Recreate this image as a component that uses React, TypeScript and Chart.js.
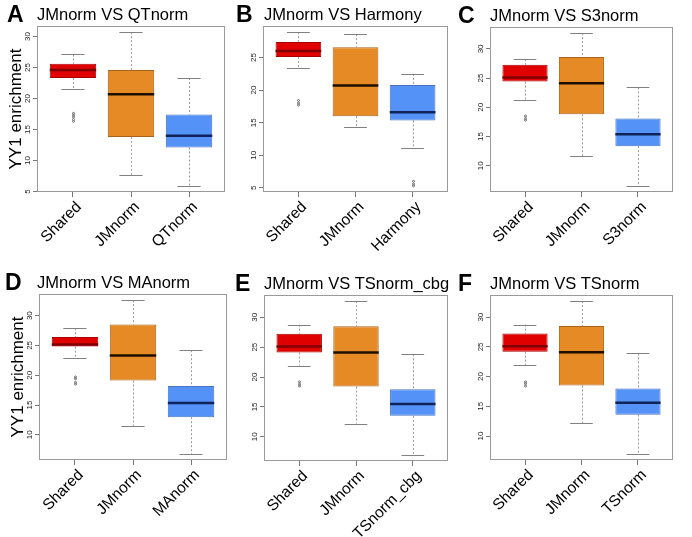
import React, { useEffect, useRef } from 'react';
import { Chart, registerables } from 'chart.js';
Chart.register(...registerables);

const FONT = '"Liberation Sans", Arial, Helvetica, sans-serif';

// ---------- data ----------
const panelLetters = ['A', 'B', 'C', 'D', 'E', 'F'];
const panelTitles = [
  'JMnorm VS QTnorm',
  'JMnorm VS Harmony',
  'JMnorm VS S3norm',
  'JMnorm VS MAnorm',
  'JMnorm VS TSnorm_cbg',
  'JMnorm VS TSnorm',
];
const yAxisTitle = 'YY1 enrichment';

const categoriesA = ['Shared', 'JMnorm', 'QTnorm'];
const lowA = [21.6, 7.6, 5.9];
const q1A = [23.3, 13.8, 12.1];
const medA = [24.6, 20.7, 14.0];
const q3A = [25.6, 24.6, 17.4];
const highA = [27.1, 30.7, 23.3];
const outliersA = [[17.6, 17.3, 17.0, 16.6, 16.3], [], []];
const yTicksA = [5, 10, 15, 20, 25, 30];

const categoriesB = ['Shared', 'JMnorm', 'Harmony'];
const lowB = [23.4, 14.3, 11.1];
const q1B = [25.1, 16.0, 15.35];
const medB = [26.0, 20.7, 16.6];
const q3B = [27.4, 26.6, 20.8];
const highB = [28.9, 28.6, 22.5];
const outliersB = [[18.4, 18.0, 17.7], [], [6.0, 5.6, 5.3]];
const yTicksB = [5, 10, 15, 20, 25];

const categoriesC = ['Shared', 'JMnorm', 'S3norm'];
const lowC = [21.2, 11.7, 6.55];
const q1C = [24.4, 18.8, 13.35];
const medC = [25.1, 24.1, 15.4];
const q3C = [27.3, 28.6, 18.1];
const highC = [28.25, 32.7, 23.4];
const outliersC = [[18.5, 18.1, 17.8], [], []];
const yTicksC = [10, 15, 20, 25, 30];

const categoriesD = ['Shared', 'JMnorm', 'MAnorm'];
const lowD = [22.9, 11.5, 6.8];
const q1D = [24.8, 19.1, 12.95];
const medD = [25.15, 23.3, 15.35];
const q3D = [26.4, 28.5, 18.2];
const highD = [27.9, 32.6, 24.2];
const outliersD = [[19.7, 19.4, 18.8, 18.5], [], []];
const yTicksD = [10, 15, 20, 25, 30];

const categoriesE = ['Shared', 'JMnorm', 'TSnorm_cbg'];
const lowE = [21.9, 12.2, 6.97];
const q1E = [24.1, 18.4, 13.5];
const medE = [25.1, 24.1, 15.5];
const q3E = [27.25, 28.5, 17.95];
const highE = [28.75, 32.7, 23.8];
const outliersE = [[19.2, 18.8, 18.5], [], []];
const yTicksE = [10, 15, 20, 25, 30];

const categoriesF = ['Shared', 'JMnorm', 'TSnorm'];
const lowF = [21.9, 12.2, 7.0];
const q1F = [24.2, 18.5, 13.6];
const medF = [25.1, 24.1, 15.6];
const q3F = [27.25, 28.5, 18.0];
const highF = [28.75, 32.7, 23.9];
const outliersF = [[19.1, 18.8, 18.4], [], []];
const yTicksF = [10, 15, 20, 25, 30];

// ---------- styles ----------
const boxColors = ['#E00000', '#E68A26', '#5592F7'];
const boxBorders = ['#A80000', '#A8641C', '#4774C2'];
const medianColors = ['#7E0000', '#1C0E00', '#0E2358'];

// ---------- layout (plot frame rectangles on the page) ----------
const frames = [
  { l: 37, t: 26, r: 225, b: 192, letterDx: -30, titleDx: 0, yTitle: true },
  { l: 263, t: 26, r: 448, b: 192, letterDx: -27, titleDx: 1, yTitle: false },
  { l: 490, t: 27, r: 673, b: 192, letterDx: -32, titleDx: 0, yTitle: false },
  { l: 39, t: 294, r: 227, b: 460, letterDx: -34, titleDx: -2, yTitle: true },
  { l: 264, t: 295, r: 448, b: 461, letterDx: -29, titleDx: 0, yTitle: false },
  { l: 490, t: 295, r: 673, b: 460, letterDx: -32, titleDx: 0, yTitle: false },
];

const panels = [
  { cats: categoriesA, low: lowA, q1: q1A, med: medA, q3: q3A, high: highA, out: outliersA, yTicks: yTicksA },
  { cats: categoriesB, low: lowB, q1: q1B, med: medB, q3: q3B, high: highB, out: outliersB, yTicks: yTicksB },
  { cats: categoriesC, low: lowC, q1: q1C, med: medC, q3: q3C, high: highC, out: outliersC, yTicks: yTicksC },
  { cats: categoriesD, low: lowD, q1: q1D, med: medD, q3: q3D, high: highD, out: outliersD, yTicks: yTicksD },
  { cats: categoriesE, low: lowE, q1: q1E, med: medE, q3: q3E, high: highE, out: outliersE, yTicks: yTicksE },
  { cats: categoriesF, low: lowF, q1: q1F, med: medF, q3: q3F, high: highF, out: outliersF, yTicks: yTicksF },
];

const W = 692;
const H = 537;

function BoxPanel({ idx }: { idx: number }) {
  const ref = useRef<HTMLCanvasElement | null>(null);
  useEffect(() => {
    const p = panels[idx];
    const f = frames[idx];
    const n = p.cats.length;
    const allVals = [...p.low, ...p.high, ...p.out.flat()];
    const lo = Math.min(...allVals);
    const hi = Math.max(...allVals);
    const ext = (hi - lo) * 0.04;
    const yW = f.yTitle ? 34 : 20;
    const xH = 76;

    const plugin = {
      id: 'rbox' + idx,
      beforeDatasetsDraw(chart: any) {
        const ctx = chart.ctx;
        const ys = chart.scales.y;
        const meta = chart.getDatasetMeta(0);
        ctx.save();
        ctx.strokeStyle = '#9a9a9a';
        ctx.lineWidth = 1;
        ctx.setLineDash([2, 2]);
        meta.data.forEach((el: any, i: number) => {
          const x = Math.round(el.x) + 0.5;
          ctx.beginPath();
          ctx.moveTo(x, ys.getPixelForValue(p.high[i]));
          ctx.lineTo(x, ys.getPixelForValue(p.q3[i]));
          ctx.moveTo(x, ys.getPixelForValue(p.q1[i]));
          ctx.lineTo(x, ys.getPixelForValue(p.low[i]));
          ctx.stroke();
        });
        ctx.restore();
      },
      afterDatasetsDraw(chart: any) {
        const ctx = chart.ctx;
        const ys = chart.scales.y;
        const meta = chart.getDatasetMeta(0);
        ctx.save();
        meta.data.forEach((el: any, i: number) => {
          const x = el.x;
          const hw = el.width / 2;
          // whisker caps
          ctx.strokeStyle = '#808080';
          ctx.lineWidth = 1;
          ctx.beginPath();
          const yh = Math.round(ys.getPixelForValue(p.high[i])) + 0.5;
          const yl = Math.round(ys.getPixelForValue(p.low[i])) + 0.5;
          ctx.moveTo(x - hw / 2, yh);
          ctx.lineTo(x + hw / 2, yh);
          ctx.moveTo(x - hw / 2, yl);
          ctx.lineTo(x + hw / 2, yl);
          ctx.stroke();
          // median
          ctx.strokeStyle = medianColors[i];
          ctx.lineWidth = 2.5;
          ctx.beginPath();
          const ym = ys.getPixelForValue(p.med[i]);
          ctx.moveTo(x - hw, ym);
          ctx.lineTo(x + hw, ym);
          ctx.stroke();
          // outliers
          ctx.strokeStyle = '#6a6a6a';
          ctx.lineWidth = 1;
          p.out[i].forEach((v: number) => {
            ctx.beginPath();
            ctx.arc(Math.round(x) + 0.5, ys.getPixelForValue(v), 1, 0, Math.PI * 2);
            ctx.stroke();
          });
        });
        ctx.restore();
      },
      afterDraw(chart: any) {
        const ctx = chart.ctx;
        const a = chart.chartArea;
        ctx.save();
        ctx.strokeStyle = '#9a9a9a';
        ctx.lineWidth = 1;
        ctx.strokeRect(Math.round(a.left) + 0.5, Math.round(a.top) + 0.5, Math.round(a.right - a.left) - 1, Math.round(a.bottom - a.top) - 1);
        ctx.fillStyle = '#000';
        ctx.textBaseline = 'alphabetic';
        ctx.textAlign = 'left';
        ctx.font = `16.5px ${FONT}`;
        ctx.fillText(panelTitles[idx], a.left + f.titleDx, a.top - 6);
        ctx.font = `bold 23px ${FONT}`;
        ctx.fillText(panelLetters[idx], a.left + f.letterDx, a.top - 4);
        ctx.restore();
      },
    };

    const chart = new Chart(ref.current as HTMLCanvasElement, {
      type: 'bar',
      data: {
        datasets: [
          {
            data: p.cats.map((_: string, i: number) => ({ x: i + 1, y: [p.q1[i], p.q3[i]] })) as any,
            backgroundColor: boxColors,
            borderColor: boxBorders,
            borderWidth: 1,
            borderSkipped: false,
            categoryPercentage: 1,
            barPercentage: 0.8,
          } as any,
        ],
      },
      options: {
        responsive: false,
        animation: false,
        devicePixelRatio: 1,
        events: [],
        layout: {
          autoPadding: false,
          padding: { left: f.l - yW, top: f.t, right: W - f.r, bottom: H - f.b - xH },
        },
        plugins: {
          legend: { display: false },
          tooltip: { enabled: false },
          title: { display: false },
        },
        scales: {
          x: {
            type: 'linear',
            min: 0.5 - 0.04 * n,
            max: n + 0.5 + 0.04 * n,
            offset: false,
            afterBuildTicks: (s: any) => {
              s.ticks = p.cats.map((_: string, i: number) => ({ value: i + 1 }));
            },
            afterFit: (s: any) => {
              s.height = xH;
              s.paddingLeft = 0;
              s.paddingRight = 0;
            },
            ticks: {
              autoSkip: false,
              minRotation: 45,
              maxRotation: 45,
              labelOffset: 6,
              padding: 1,
              color: '#000',
              font: { family: FONT, size: 15.5 },
              callback: (v: any) => p.cats[Math.round(Number(v)) - 1] ?? '',
            },
            grid: { offset: false, drawOnChartArea: false, drawTicks: true, tickLength: 5, color: '#777' },
            border: { display: false },
          },
          y: {
            type: 'linear',
            min: lo - ext,
            max: hi + ext,
            afterBuildTicks: (s: any) => {
              s.ticks = p.yTicks.map((v: number) => ({ value: v }));
            },
            afterFit: (s: any) => {
              s.width = yW;
              s.paddingTop = 0;
              s.paddingBottom = 0;
            },
            ticks: {
              minRotation: 90,
              maxRotation: 90,
              crossAlign: 'center',
              padding: 1,
              color: '#222',
              font: { family: FONT, size: 8 },
            },
            grid: { drawOnChartArea: false, drawTicks: true, tickLength: 4, color: '#777' },
            border: { display: false },
            title: {
              display: f.yTitle,
              text: yAxisTitle,
              color: '#000',
              font: { family: FONT, size: 17 },
              padding: { top: 3, bottom: 0 },
            },
          },
        },
      } as any,
      plugins: [plugin],
    });
    return () => chart.destroy();
  }, [idx]);
  return (
    <canvas
      ref={ref}
      width={W}
      height={H}
      style={{ position: 'absolute', left: 0, top: 0, width: W, height: H }}
    />
  );
}

export default function App() {
  return (
    <div style={{ position: 'absolute', left: 0, top: 0, width: W, height: H, background: '#fff', overflow: 'hidden' }}>
      {panels.map((_, i) => (
        <BoxPanel key={i} idx={i} />
      ))}
    </div>
  );
}
